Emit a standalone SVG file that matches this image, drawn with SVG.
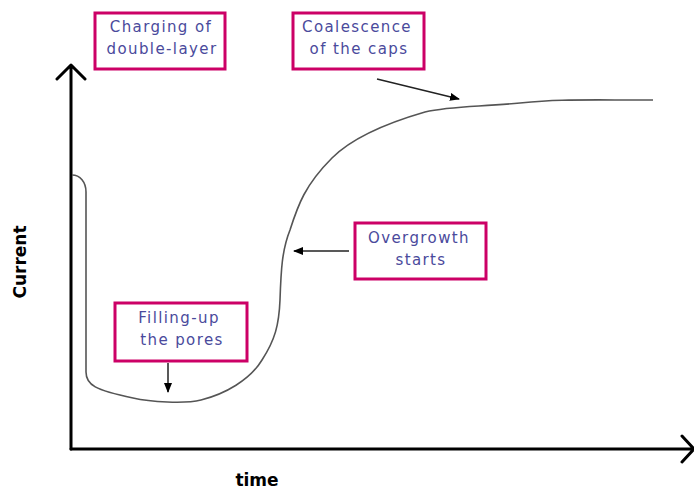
<svg xmlns="http://www.w3.org/2000/svg" width="694" height="491" viewBox="0 0 694 491">
<defs>
<style>
.box{fill:#ffffff;stroke:#cc0066;stroke-width:3}
.lbl{font-family:"DejaVu Sans",Verdana,sans-serif;font-size:15px;fill:#4a4a9c;letter-spacing:1.4px;text-anchor:middle}
.axis{fill:none;stroke:#000;stroke-width:3;stroke-linecap:round;stroke-linejoin:round}
.curve{fill:none;stroke:#555;stroke-width:1.6}
.ptr{fill:none;stroke:#222;stroke-width:1.5;marker-end:url(#ah)}
.ax{font-family:"DejaVu Sans",Verdana,sans-serif;font-weight:bold;font-size:17px;fill:#000}
</style>
<marker id="ah" markerWidth="10" markerHeight="8" refX="9" refY="4" orient="auto" markerUnits="userSpaceOnUse">
<path d="M0,0 L10,4 L0,8 Z" fill="#000"/>
</marker>
</defs>
<rect width="694" height="491" fill="#ffffff"/>
<g id="axes">
<path class="axis" d="M71,449 L71,65 M57,79 L71,65 L85,79"/>
<path class="axis" d="M71,449 L693,449 M682,436 L694,449 L682,462"/>
<text class="ax" transform="translate(26,262) rotate(-90)" text-anchor="middle">Current</text>
<text class="ax" x="257" y="486" text-anchor="middle" font-size="19">time</text>
</g>
<g id="curve">
<path class="curve" d="M72,175 C80,175 86,182 86,192 L86,372 C86,385 95,390 133,398 C150,402 185,404 201,400 C225,394 250,380 262,360 C275,340 279,325 280,300 C281,270 282,250 290,230 C298,205 305,185 332,158 C350,140 380,125 425,112 C450,106 478,107 520,103 C560,99 575,100 653,100"/>
</g>
<g id="connectors">
<line class="ptr" x1="377" y1="79" x2="459" y2="99"/>
<line class="ptr" x1="349" y1="251" x2="294" y2="251"/>
<line class="ptr" x1="168" y1="363" x2="168" y2="392"/>
</g>
<g id="node-charging">
<rect class="box" x="95" y="13" width="130" height="56"/>
<text class="lbl" x="161" y="32">Charging of</text>
<text class="lbl" x="162" y="54">double-layer</text>
</g>
<g id="node-coalescence">
<rect class="box" x="293" y="13" width="131" height="56"/>
<text class="lbl" x="357" y="32">Coalescence</text>
<text class="lbl" x="359" y="54">of the caps</text>
</g>
<g id="node-overgrowth">
<rect class="box" x="355" y="223" width="131" height="56"/>
<text class="lbl" x="419" y="243">Overgrowth</text>
<text class="lbl" x="421" y="265">starts</text>
</g>
<g id="node-filling">
<rect class="box" x="115" y="303" width="132" height="58"/>
<text class="lbl" x="179" y="323">Filling-up</text>
<text class="lbl" x="182" y="345">the pores</text>
</g>
</svg>
